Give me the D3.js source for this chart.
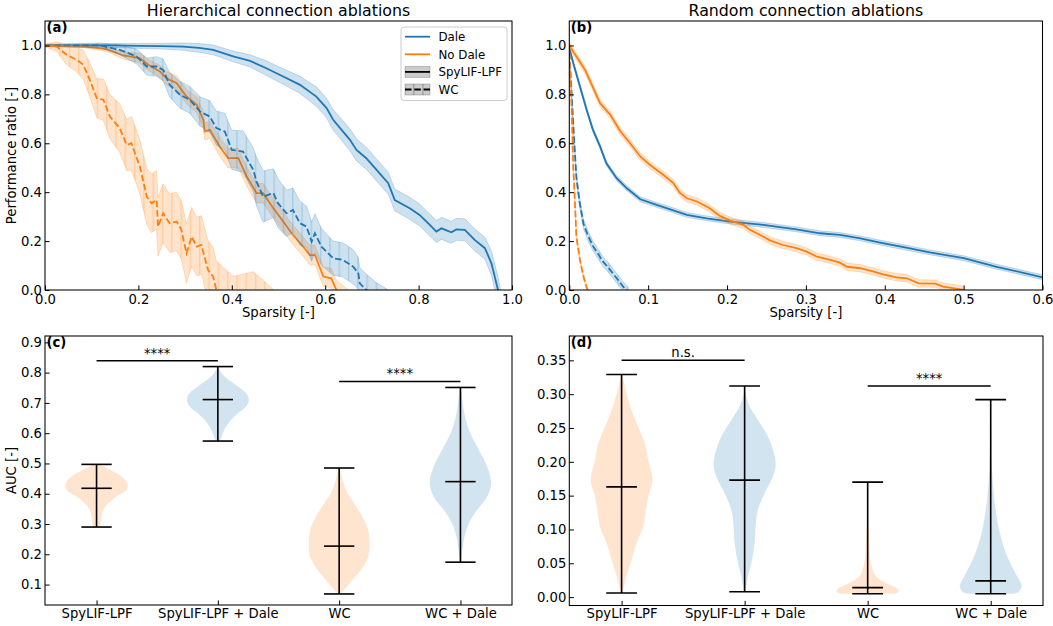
<!DOCTYPE html>
<html>
<head>
<meta charset="utf-8">
<script src="https://cdn.jsdelivr.net/npm/d3@7"></script>
<style>
body { margin: 0; background: #fff; }
svg text { font-family: "DejaVu Sans", sans-serif; fill: #000; }
</style>
</head>
<body>
<div id="fig"></div>
<script>

// ---------- (a) hierarchical ablations: sparsity, mean, std ----------
var hierDaleLifS = [0, 0.05, 0.1, 0.15, 0.2, 0.25, 0.296, 0.33, 0.36, 0.403, 0.439, 0.474, 0.51, 0.546, 0.581, 0.603, 0.617, 0.653, 0.667, 0.688, 0.71, 0.735, 0.749, 0.781, 0.802, 0.824, 0.838, 0.849, 0.87, 0.881, 0.899, 0.92, 0.942, 0.956, 0.97, 0.976];
var hierDaleLifMean = [1.0, 1.0, 1.0, 1.0, 0.998, 0.997, 0.995, 0.99, 0.982, 0.955, 0.937, 0.907, 0.873, 0.839, 0.791, 0.744, 0.696, 0.614, 0.573, 0.539, 0.491, 0.437, 0.368, 0.334, 0.307, 0.266, 0.239, 0.252, 0.236, 0.248, 0.246, 0.205, 0.171, 0.109, 0.0, -0.06];
var hierDaleLifSd = [0.003, 0.005, 0.006, 0.008, 0.01, 0.012, 0.015, 0.018, 0.02, 0.022, 0.025, 0.03, 0.032, 0.035, 0.04, 0.04, 0.042, 0.045, 0.045, 0.045, 0.045, 0.045, 0.045, 0.045, 0.045, 0.045, 0.045, 0.045, 0.045, 0.045, 0.045, 0.045, 0.045, 0.05, 0.055, 0.055];

var hierNoDaleLifS = [0, 0.082, 0.132, 0.168, 0.203, 0.221, 0.246, 0.26, 0.282, 0.303, 0.325, 0.339, 0.342, 0.353, 0.374, 0.392, 0.414, 0.432, 0.453, 0.467, 0.489, 0.51, 0.531, 0.553, 0.567, 0.578, 0.596, 0.613, 0.624, 0.65];
var hierNoDaleLifMean = [1.0, 0.996, 0.985, 0.959, 0.948, 0.921, 0.894, 0.866, 0.846, 0.791, 0.757, 0.696, 0.648, 0.655, 0.587, 0.539, 0.539, 0.464, 0.396, 0.396, 0.334, 0.28, 0.225, 0.177, 0.143, 0.143, 0.055, 0.048, 0.0, -0.04];
var hierNoDaleLifSd = [0.002, 0.005, 0.01, 0.015, 0.02, 0.022, 0.025, 0.028, 0.03, 0.03, 0.032, 0.035, 0.035, 0.035, 0.04, 0.04, 0.04, 0.04, 0.04, 0.04, 0.04, 0.04, 0.04, 0.04, 0.04, 0.04, 0.04, 0.04, 0.04, 0.04];

var hierDaleWcS = [0, 0.118, 0.16, 0.196, 0.218, 0.239, 0.253, 0.267, 0.289, 0.31, 0.332, 0.353, 0.367, 0.385, 0.4, 0.424, 0.446, 0.453, 0.467, 0.489, 0.499, 0.517, 0.531, 0.546, 0.56, 0.571, 0.578, 0.592, 0.617, 0.638, 0.66, 0.671, 0.674, 0.688, 0.71, 0.735];
var hierDaleWcMean = [1.0, 1.0, 0.982, 0.955, 0.914, 0.914, 0.9, 0.839, 0.798, 0.778, 0.73, 0.709, 0.662, 0.648, 0.573, 0.566, 0.491, 0.443, 0.382, 0.396, 0.355, 0.314, 0.327, 0.273, 0.259, 0.198, 0.232, 0.177, 0.13, 0.123, 0.095, 0.068, 0.027, 0.0, -0.03, -0.06];
var hierDaleWcSd = [0.005, 0.01, 0.02, 0.03, 0.035, 0.04, 0.045, 0.05, 0.055, 0.055, 0.06, 0.065, 0.07, 0.075, 0.08, 0.085, 0.09, 0.1, 0.105, 0.1, 0.1, 0.095, 0.09, 0.09, 0.085, 0.08, 0.08, 0.075, 0.07, 0.07, 0.07, 0.065, 0.065, 0.065, 0.06, 0.06];

var hierNoDaleWcS = [0, 0.025, 0.046, 0.068, 0.082, 0.096, 0.111, 0.125, 0.139, 0.16, 0.175, 0.185, 0.203, 0.218, 0.228, 0.239, 0.242, 0.253, 0.267, 0.282, 0.292, 0.303, 0.314, 0.325, 0.335, 0.349, 0.36, 0.367, 0.403, 0.446, 0.467, 0.49];
var hierNoDaleWcMean = [1.0, 0.995, 0.962, 0.941, 0.921, 0.859, 0.784, 0.778, 0.709, 0.662, 0.593, 0.6, 0.505, 0.382, 0.355, 0.368, 0.259, 0.314, 0.273, 0.28, 0.246, 0.15, 0.218, 0.177, 0.184, 0.082, 0.055, 0.0, -0.065, -0.045, -0.08, -0.12];
var hierNoDaleWcSd = [0.005, 0.02, 0.04, 0.05, 0.06, 0.07, 0.08, 0.085, 0.09, 0.1, 0.105, 0.11, 0.11, 0.115, 0.12, 0.12, 0.12, 0.12, 0.12, 0.12, 0.12, 0.12, 0.12, 0.12, 0.12, 0.12, 0.12, 0.12, 0.12, 0.12, 0.12, 0.12];

// ---------- (b) random ablations ----------
var randDaleLifS = [0, 0.005, 0.0135, 0.022, 0.03, 0.039, 0.047, 0.06, 0.073, 0.09, 0.107, 0.128, 0.149, 0.174, 0.204, 0.246, 0.288, 0.318, 0.343, 0.369, 0.394, 0.424, 0.457, 0.5, 0.542, 0.6];
var randDaleLifMean = [0.99, 0.928, 0.832, 0.737, 0.655, 0.587, 0.518, 0.457, 0.416, 0.371, 0.352, 0.33, 0.307, 0.293, 0.28, 0.266, 0.248, 0.232, 0.225, 0.211, 0.194, 0.175, 0.154, 0.13, 0.095, 0.052];
var randDaleLifSd = [0.01, 0.01, 0.01, 0.01, 0.01, 0.01, 0.01, 0.01, 0.01, 0.01, 0.01, 0.01, 0.01, 0.01, 0.01, 0.01, 0.01, 0.01, 0.01, 0.01, 0.01, 0.01, 0.01, 0.01, 0.01, 0.01];

var randNoDaleLifS = [0, 0.02, 0.039, 0.052, 0.064, 0.077, 0.09, 0.102, 0.119, 0.132, 0.14, 0.149, 0.162, 0.178, 0.191, 0.204, 0.221, 0.229, 0.242, 0.255, 0.271, 0.288, 0.301, 0.314, 0.331, 0.343, 0.352, 0.369, 0.386, 0.398, 0.415, 0.428, 0.443, 0.464, 0.474, 0.496, 0.5];
var randNoDaleLifMean = [1.0, 0.9, 0.764, 0.716, 0.652, 0.6, 0.546, 0.512, 0.471, 0.437, 0.398, 0.375, 0.362, 0.334, 0.303, 0.284, 0.266, 0.246, 0.225, 0.202, 0.184, 0.171, 0.157, 0.136, 0.123, 0.112, 0.095, 0.089, 0.075, 0.064, 0.052, 0.048, 0.027, 0.026, 0.014, 0.003, 0.0];
var randNoDaleLifSd = [0.015, 0.015, 0.015, 0.015, 0.015, 0.015, 0.015, 0.015, 0.015, 0.015, 0.015, 0.015, 0.015, 0.015, 0.015, 0.015, 0.015, 0.015, 0.015, 0.015, 0.015, 0.015, 0.015, 0.015, 0.015, 0.015, 0.015, 0.015, 0.015, 0.015, 0.015, 0.015, 0.015, 0.015, 0.015, 0.015, 0.015];

var randDaleWcS = [0, 0.003, 0.006, 0.009, 0.013, 0.018, 0.024, 0.03, 0.037, 0.043, 0.05, 0.056, 0.062, 0.068, 0.075];
var randDaleWcMean = [0.97, 0.8, 0.62, 0.46, 0.36, 0.27, 0.22, 0.18, 0.145, 0.115, 0.09, 0.065, 0.04, 0.015, -0.01];
var randDaleWcSd = [0.01, 0.02, 0.02, 0.02, 0.02, 0.02, 0.02, 0.02, 0.02, 0.02, 0.02, 0.02, 0.02, 0.02, 0.02];

var randNoDaleWcS = [0, 0.003, 0.005, 0.007, 0.009, 0.0135, 0.018, 0.023, 0.026];
var randNoDaleWcMean = [0.97, 0.737, 0.505, 0.368, 0.218, 0.123, 0.055, 0.0, -0.02];
var randNoDaleWcSd = [0.01, 0.01, 0.01, 0.01, 0.01, 0.01, 0.01, 0.01, 0.01];

// ---------- (c)/(d) AUC violins ----------
var groups = ['SpyLIF-LPF', 'SpyLIF-LPF + Dale', 'WC', 'WC + Dale'];

// violin outlines: value, half width
var hierV1Y = [0.29, 0.302, 0.324, 0.346, 0.368, 0.391, 0.413, 0.435, 0.457, 0.479, 0.49, 0.497];
var hierV1W = [0.03, 0.033, 0.041, 0.055, 0.096, 0.165, 0.247, 0.255, 0.206, 0.11, 0.06, 0.03];
var hierV2Y = [0.574, 0.578, 0.6, 0.622, 0.644, 0.666, 0.688, 0.71, 0.732, 0.754, 0.787, 0.805, 0.82];
var hierV2W = [0.02, 0.022, 0.041, 0.069, 0.11, 0.165, 0.233, 0.255, 0.233, 0.165, 0.055, 0.02, 0.005];
var hierV3Y = [0.069, 0.082, 0.115, 0.148, 0.192, 0.236, 0.28, 0.324, 0.368, 0.412, 0.456, 0.485];
var hierV3W = [0.01, 0.04, 0.11, 0.178, 0.24, 0.25, 0.239, 0.192, 0.124, 0.055, 0.022, 0.005];
var hierV4Y = [0.174, 0.214, 0.258, 0.302, 0.346, 0.39, 0.435, 0.49, 0.545, 0.611, 0.677, 0.743, 0.75];
var hierV4W = [0.005, 0.016, 0.033, 0.069, 0.137, 0.22, 0.253, 0.22, 0.151, 0.069, 0.027, 0.008, 0.005];
var hierMin = [0.29, 0.574, 0.069, 0.174];
var hierMed = [0.418, 0.711, 0.227, 0.44];
var hierMax = [0.497, 0.82, 0.485, 0.751];

var randV1Y = [0.006, 0.011, 0.031, 0.055, 0.08, 0.104, 0.129, 0.149, 0.173, 0.202, 0.227, 0.252, 0.277, 0.301, 0.326, 0.329];
var randV1W = [0.005, 0.014, 0.04, 0.081, 0.122, 0.176, 0.198, 0.217, 0.252, 0.217, 0.19, 0.135, 0.08, 0.04, 0.008, 0.004];
var randV2Y = [0.008, 0.011, 0.031, 0.05, 0.08, 0.104, 0.129, 0.154, 0.178, 0.195, 0.213, 0.237, 0.262, 0.282, 0.301, 0.312];
var randV2W = [0.005, 0.008, 0.027, 0.054, 0.081, 0.089, 0.108, 0.163, 0.23, 0.252, 0.238, 0.19, 0.108, 0.04, 0.008, 0.003];
var randV3Y = [0.005, 0.008, 0.013, 0.021, 0.031, 0.05, 0.08, 0.109, 0.14, 0.17];
var randV3W = [0.217, 0.252, 0.238, 0.149, 0.068, 0.027, 0.014, 0.006, 0.003, 0.002];
var randV4Y = [0.005, 0.008, 0.016, 0.021, 0.035, 0.06, 0.09, 0.129, 0.178, 0.227, 0.26, 0.292];
var randV4W = [0.19, 0.23, 0.252, 0.244, 0.203, 0.135, 0.081, 0.04, 0.014, 0.006, 0.003, 0.002];
var randMin = [0.006, 0.008, 0.005, 0.005];
var randMed = [0.163, 0.173, 0.014, 0.024];
var randMax = [0.329, 0.312, 0.17, 0.292];

// significance brackets: [from, to, height, label]
var hierSig = [[1, 2, 0.839, '****'], [3, 4, 0.771, '****']];
var randSig = [[1, 2, 0.35, 'n.s.'], [3, 4, 0.312, '****']];

var hierTicksX = [0, 0.2, 0.4, 0.6, 0.8, 1.0];
var randTicksX = [0, 0.1, 0.2, 0.3, 0.4, 0.5, 0.6];
var ratioTicksY = [0, 0.2, 0.4, 0.6, 0.8, 1.0];
var hierAucTicks = [0.1, 0.2, 0.3, 0.4, 0.5, 0.6, 0.7, 0.8, 0.9];
var randAucTicks = [0, 0.05, 0.1, 0.15, 0.2, 0.25, 0.3, 0.35];

// ---------- figure ----------
var svgWidth = 1053;
var svgHeight = 626;
var blue = '#1f77b4';
var orange = '#ff7f0e';
var fontSize = 13.2;

var svg = d3.select('#fig')
    .append('svg')
    .attr('width', svgWidth)
    .attr('height', svgHeight);

var defs = svg.append('defs');

// vertical hatching used for the WC bands
function makeHatch(id, color, opacity) {
    var p = defs.append('pattern')
        .attr('id', id)
        .attr('patternUnits', 'userSpaceOnUse')
        .attr('width', 9.3)
        .attr('height', 10);
    p.append('line')
        .attr('x1', 4.5).attr('x2', 4.5)
        .attr('y1', 0).attr('y2', 10)
        .attr('stroke', color)
        .attr('stroke-opacity', opacity)
        .attr('stroke-width', 1);
}
makeHatch('hatchBlue', blue, 0.3);
makeHatch('hatchOrange', orange, 0.3);
makeHatch('hatchGray', '#000', 0.3);

// panel boxes
var boxA = {left: 45, right: 512, top: 21, bottom: 290};
var boxB = {left: 569.3, right: 1042.5, top: 21, bottom: 290};
var boxC = {left: 45, right: 512, top: 336, bottom: 605};
var boxD = {left: 569.3, right: 1043, top: 336, bottom: 605.5};

function addClip(id, box) {
    defs.append('clipPath').attr('id', id)
        .append('rect')
        .attr('x', box.left).attr('y', box.top)
        .attr('width', box.right - box.left)
        .attr('height', box.bottom - box.top);
}
addClip('clipA', boxA);
addClip('clipB', boxB);
addClip('clipC', boxC);
addClip('clipD', boxD);

// axes with inward ticks
function drawAxes(box, x, y, xticks, yticks, xfmt, yfmt, xPad) {
    var bottomAxis = d3.axisBottom(x)
        .tickValues(xticks)
        .tickFormat(xfmt)
        .tickSizeInner(-4.6)
        .tickSizeOuter(0)
        .tickPadding(xPad);
    var leftAxis = d3.axisLeft(y)
        .tickValues(yticks)
        .tickFormat(yfmt)
        .tickSizeInner(-4.6)
        .tickSizeOuter(0)
        .tickPadding(3);

    var gx = svg.append('g')
        .attr('transform', `translate(0,${box.bottom})`)
        .call(bottomAxis);
    var gy = svg.append('g')
        .attr('transform', `translate(${box.left},0)`)
        .call(leftAxis);

    [gx, gy].forEach(g => {
        g.select('.domain').remove();
        g.selectAll('line').attr('stroke', '#000').attr('stroke-width', 1);
        g.selectAll('text')
            .attr('font-size', fontSize)
            .attr('font-family', '"DejaVu Sans", sans-serif')
            .attr('fill', '#000');
    });

    // frame on top
    svg.append('rect')
        .attr('x', box.left).attr('y', box.top)
        .attr('width', box.right - box.left)
        .attr('height', box.bottom - box.top)
        .attr('fill', 'none')
        .attr('stroke', '#000')
        .attr('stroke-width', 1.05);
}

// band + mean line
function drawBand(g, x, y, s, mean, sd, color, hatchId) {
    var pts = s.map((d, i) => ({s: d, m: mean[i], sd: sd[i]}));
    var area = d3.area()
        .x(d => x(d.s))
        .y0(d => y(d.m - d.sd))
        .y1(d => y(d.m + d.sd));
    g.append('path')
        .datum(pts)
        .attr('d', area)
        .attr('fill', color)
        .attr('fill-opacity', 0.22)
        .attr('stroke', color)
        .attr('stroke-opacity', 0.22)
        .attr('stroke-width', 1);
    if (hatchId) {
        g.append('path')
            .datum(pts)
            .attr('d', area)
            .attr('fill', `url(#${hatchId})`);
    }
}

function drawMean(g, x, y, s, mean, color, dashed) {
    var pts = s.map((d, i) => ({s: d, m: mean[i]}));
    var line = d3.line()
        .x(d => x(d.s))
        .y(d => y(d.m));
    g.append('path')
        .datum(pts)
        .attr('d', line)
        .attr('fill', 'none')
        .attr('stroke', color)
        .attr('stroke-width', 1.8)
        .attr('stroke-dasharray', dashed ? '6.5,2.8' : null);
}

function panelLabel(box, txt) {
    svg.append('text')
        .attr('x', box.left + 1.5)
        .attr('y', box.top + 10.5)
        .attr('font-size', fontSize)
        .attr('font-weight', 'bold')
        .text(txt);
}

// ---------- (a) ----------
var xA = d3.scaleLinear().domain([0, 1]).range([boxA.left, boxA.right]);
var yA = d3.scaleLinear().domain([0, 1.1]).range([boxA.bottom, boxA.top]);
var gA = svg.append('g').attr('clip-path', 'url(#clipA)');

drawBand(gA, xA, yA, hierDaleLifS, hierDaleLifMean, hierDaleLifSd, blue, null);
drawMean(gA, xA, yA, hierDaleLifS, hierDaleLifMean, blue, false);
drawBand(gA, xA, yA, hierNoDaleLifS, hierNoDaleLifMean, hierNoDaleLifSd, orange, null);
drawMean(gA, xA, yA, hierNoDaleLifS, hierNoDaleLifMean, orange, false);
drawBand(gA, xA, yA, hierDaleWcS, hierDaleWcMean, hierDaleWcSd, blue, 'hatchBlue');
drawMean(gA, xA, yA, hierDaleWcS, hierDaleWcMean, blue, true);
drawBand(gA, xA, yA, hierNoDaleWcS, hierNoDaleWcMean, hierNoDaleWcSd, orange, 'hatchOrange');
drawMean(gA, xA, yA, hierNoDaleWcS, hierNoDaleWcMean, orange, true);

drawAxes(boxA, xA, yA, hierTicksX, ratioTicksY, d3.format('.1f'), d3.format('.1f'), 4.5);
panelLabel(boxA, '(a)');

// legend
var legend = svg.append('g');
legend.append('rect')
    .attr('x', 401).attr('y', 27)
    .attr('width', 106).attr('height', 73.5)
    .attr('rx', 3)
    .attr('fill', '#fff').attr('fill-opacity', 0.8)
    .attr('stroke', '#ccc').attr('stroke-width', 1);
var legendItems = [
    {label: 'Dale', color: blue, dash: false, band: false, hatch: false},
    {label: 'No Dale', color: orange, dash: false, band: false, hatch: false},
    {label: 'SpyLIF-LPF', color: '#000', dash: false, band: true, hatch: false},
    {label: 'WC', color: '#000', dash: true, band: true, hatch: true}
];
legendItems.forEach((d, i) => {
    var cy = 36.7 + i * 17.6;
    if (d.band) {
        legend.append('rect')
            .attr('x', 405).attr('y', cy - 5.5)
            .attr('width', 25).attr('height', 11)
            .attr('fill', '#000').attr('fill-opacity', 0.2)
            .attr('stroke', '#000').attr('stroke-opacity', 0.2);
        if (d.hatch) {
            legend.append('rect')
                .attr('x', 405).attr('y', cy - 5.5)
                .attr('width', 25).attr('height', 11)
                .attr('fill', 'url(#hatchGray)');
        }
    }
    legend.append('line')
        .attr('x1', 405).attr('x2', 430)
        .attr('y1', cy).attr('y2', cy)
        .attr('stroke', d.color)
        .attr('stroke-width', 1.8)
        .attr('stroke-dasharray', d.dash ? '6.5,2.8' : null);
    legend.append('text')
        .attr('x', 438.5).attr('y', cy + 4.3)
        .attr('font-size', 11.8)
        .text(d.label);
});

// ---------- (b) ----------
var xB = d3.scaleLinear().domain([0, 0.6]).range([boxB.left, boxB.right]);
var yB = d3.scaleLinear().domain([0, 1.1]).range([boxB.bottom, boxB.top]);
var gB = svg.append('g').attr('clip-path', 'url(#clipB)');

drawBand(gB, xB, yB, randDaleLifS, randDaleLifMean, randDaleLifSd, blue, null);
drawMean(gB, xB, yB, randDaleLifS, randDaleLifMean, blue, false);
drawBand(gB, xB, yB, randNoDaleLifS, randNoDaleLifMean, randNoDaleLifSd, orange, null);
drawMean(gB, xB, yB, randNoDaleLifS, randNoDaleLifMean, orange, false);
drawBand(gB, xB, yB, randDaleWcS, randDaleWcMean, randDaleWcSd, blue, 'hatchBlue');
drawMean(gB, xB, yB, randDaleWcS, randDaleWcMean, blue, true);
drawBand(gB, xB, yB, randNoDaleWcS, randNoDaleWcMean, randNoDaleWcSd, orange, 'hatchOrange');
drawMean(gB, xB, yB, randNoDaleWcS, randNoDaleWcMean, orange, true);

drawAxes(boxB, xB, yB, randTicksX, ratioTicksY, d3.format('.1f'), d3.format('.1f'), 4.5);
panelLabel(boxB, '(b)');

// ---------- violins ----------
function drawViolins(box, x, y, outlines, mins, meds, maxs, sig) {
    var g = svg.append('g').attr('clip-path', `url(#clip${box.id})`);
    outlines.forEach((o, i) => {
        var pos = i + 1;
        var pts = o.v.map((v, k) => ({v: v, w: o.w[k]}));
        var area = d3.area()
            .curve(d3.curveCatmullRom.alpha(0.5))
            .y(d => y(d.v))
            .x0(d => x(pos - d.w))
            .x1(d => x(pos + d.w));
        g.append('path')
            .datum(pts)
            .attr('d', area)
            .attr('fill', o.color)
            .attr('fill-opacity', 0.2);
    });
    // min/max bars and median
    groups.forEach((name, i) => {
        var pos = i + 1;
        g.append('line')
            .attr('x1', x(pos)).attr('x2', x(pos))
            .attr('y1', y(mins[i])).attr('y2', y(maxs[i]))
            .attr('stroke', '#000').attr('stroke-width', 1.6);
        [mins[i], meds[i], maxs[i]].forEach(v => {
            g.append('line')
                .attr('x1', x(pos - 0.125)).attr('x2', x(pos + 0.125))
                .attr('y1', y(v)).attr('y2', y(v))
                .attr('stroke', '#000').attr('stroke-width', 1.6);
        });
    });
    // significance brackets
    sig.forEach(s => {
        svg.append('line')
            .attr('x1', x(s[0])).attr('x2', x(s[1]))
            .attr('y1', y(s[2])).attr('y2', y(s[2]))
            .attr('stroke', '#000').attr('stroke-width', 1.5);
        svg.append('text')
            .attr('x', x((s[0] + s[1]) / 2))
            .attr('y', y(s[2]) - 3)
            .attr('text-anchor', 'middle')
            .attr('font-size', fontSize)
            .attr('fill', '#222')
            .text(s[3]);
    });
}

// ---------- (c) ----------
boxC.id = 'C';
var xC = d3.scaleLinear().domain([0.575, 4.425]).range([boxC.left, boxC.right]);
var yC = d3.scaleLinear().domain([0.0325, 0.921]).range([boxC.bottom, boxC.top]);
drawViolins(boxC, xC, yC, [
    {v: hierV1Y, w: hierV1W, color: orange},
    {v: hierV2Y, w: hierV2W, color: blue},
    {v: hierV3Y, w: hierV3W, color: orange},
    {v: hierV4Y, w: hierV4W, color: blue}
], hierMin, hierMed, hierMax, hierSig);
drawAxes(boxC, xC, yC, [1, 2, 3, 4], hierAucTicks, (d, i) => groups[i], d3.format('.1f'), 3.5);
panelLabel(boxC, '(c)');

// ---------- (d) ----------
boxD.id = 'D';
var xD = d3.scaleLinear().domain([0.575, 4.425]).range([boxD.left, boxD.right]);
var yD = d3.scaleLinear().domain([-0.0124, 0.386]).range([boxD.bottom, boxD.top]);
drawViolins(boxD, xD, yD, [
    {v: randV1Y, w: randV1W, color: orange},
    {v: randV2Y, w: randV2W, color: blue},
    {v: randV3Y, w: randV3W, color: orange},
    {v: randV4Y, w: randV4W, color: blue}
], randMin, randMed, randMax, randSig);
drawAxes(boxD, xD, yD, [1, 2, 3, 4], randAucTicks, (d, i) => groups[i], d3.format('.2f'), 3.5);
panelLabel(boxD, '(d)');

// ---------- titles and axis labels ----------
svg.append('text')
    .attr('x', (boxA.left + boxA.right) / 2).attr('y', 16.3)
    .attr('text-anchor', 'middle').attr('font-size', 15.8)
    .text('Hierarchical connection ablations');
svg.append('text')
    .attr('x', (boxB.left + boxB.right) / 2).attr('y', 16.3)
    .attr('text-anchor', 'middle').attr('font-size', 15.8)
    .text('Random connection ablations');

[boxA, boxB].forEach(b => {
    svg.append('text')
        .attr('x', (b.left + b.right) / 2).attr('y', 317)
        .attr('text-anchor', 'middle').attr('font-size', fontSize)
        .text('Sparsity [-]');
});

svg.append('text')
    .attr('transform', `translate(16.3,${(boxA.top + boxA.bottom) / 2}) rotate(-90)`)
    .attr('text-anchor', 'middle').attr('font-size', fontSize)
    .text('Performance ratio [-]');
svg.append('text')
    .attr('transform', `translate(16.3,${(boxC.top + boxC.bottom) / 2}) rotate(-90)`)
    .attr('text-anchor', 'middle').attr('font-size', fontSize)
    .text('AUC [-]');

</script>
</body>
</html>
